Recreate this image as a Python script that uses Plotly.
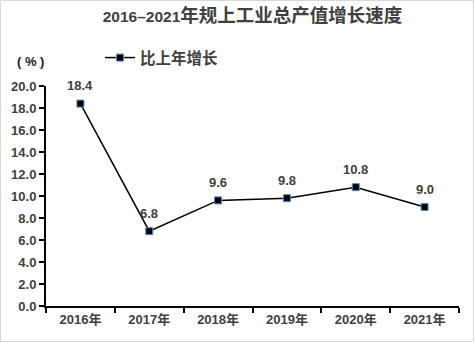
import plotly.graph_objects as go

years = ["2016年", "2017年", "2018年", "2019年", "2020年", "2021年"]
growth = [18.4, 6.8, 9.6, 9.8, 10.8, 9.0]
series_name = "比上年增长"
title_num = "2016–2021"
title_cjk = "年规上工业总产值增长速度"
unit_text = "( % )"

FONT = "Liberation Sans, Arial, Noto Sans CJK SC, sans-serif"
TXT = "#404040"

W, H = 474, 342
L, R, T, B = 46, 15, 86, 36
pw, ph = W - L - R, H - T - B

fig = go.Figure()
fig.add_trace(go.Scatter(
    x=years, y=growth, name=series_name,
    mode="lines+markers",
    line=dict(color="black", width=1.5),
    marker=dict(symbol="square", size=7, color="black",
                line=dict(color="#4f8fd0", width=1)),
    cliponaxis=False,
))

annotations = [dict(x=xv, y=yv, xref="x", yref="y", text=f"{yv:.1f}",
                    showarrow=False, yshift=18, xanchor="center", yanchor="middle",
                    font=dict(family=FONT, size=13, color=TXT, weight="bold"))
               for xv, yv in zip(years, growth)]
annotations.append(dict(text=unit_text, xref="paper", yref="paper",
                        x=(30 - L) / pw, y=(306 - 61) / ph,
                        xanchor="center", yanchor="middle", showarrow=False,
                        font=dict(family=FONT, size=13, color="#202020", weight="bold")))

fig.update_layout(
    width=W, height=H,
    margin=dict(l=L, r=R, t=T, b=B),
    paper_bgcolor="white", plot_bgcolor="white",
    font=dict(family=FONT, color=TXT, size=13, weight="bold"),
    title=dict(text=f"{title_num}<span style='font-size:18.5px'>{title_cjk}</span>",
               x=0.5, xref="paper", xanchor="center",
               y=1 - 17 / H, yanchor="middle",
               font=dict(family=FONT, size=15.5, color=TXT, weight="bold")),
    showlegend=True,
    legend=dict(x=(100 - L) / pw, y=(306 - 58) / ph, xanchor="left", yanchor="middle",
                bgcolor="rgba(0,0,0,0)",
                font=dict(family=FONT, size=15.5, color=TXT, weight="bold")),
    xaxis=dict(type="category", range=[-0.5, 5.5], tickson="boundaries",
               ticks="outside", ticklen=5, tickwidth=2, tickcolor="black",
               showline=True, linecolor="black", linewidth=2,
               showgrid=False, zeroline=False,
               tickfont=dict(family=FONT, size=13, color=TXT, weight="bold")),
    yaxis=dict(range=[0, 20], dtick=2, tickformat=".1f",
               ticks="outside", ticklen=5, tickwidth=2, tickcolor="black",
               showline=True, linecolor="black", linewidth=2,
               showgrid=False, zeroline=False,
               tickfont=dict(family=FONT, size=13, color=TXT, weight="bold")),
    annotations=annotations,
    shapes=[dict(type="rect", xref="paper", yref="paper",
                 x0=(0.5 - L) / pw, x1=(W - 0.5 - L) / pw,
                 y0=-(B - 0.5) / ph, y1=(ph + T - 0.5) / ph,
                 line=dict(color="#d9d9d9", width=1), layer="below")],
)

fig.write_html("out.html")
